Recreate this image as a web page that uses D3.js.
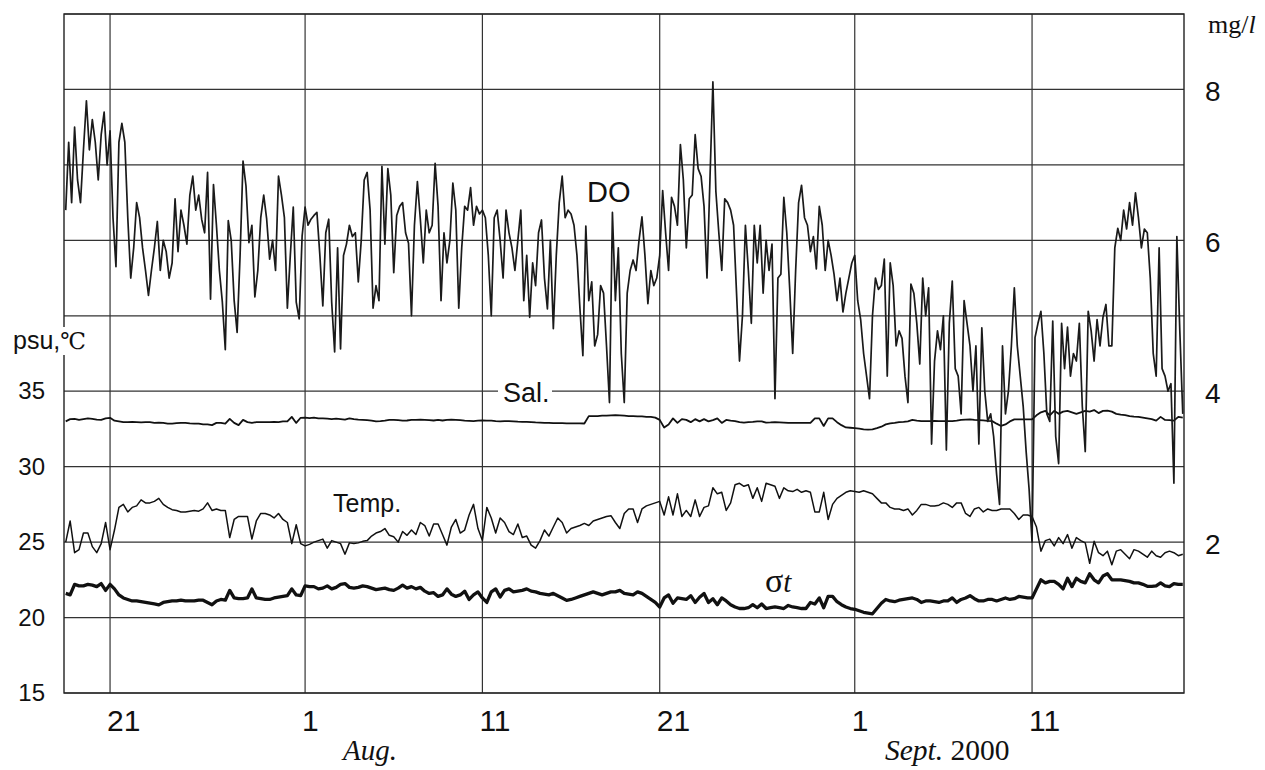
<!DOCTYPE html>
<html>
<head>
<meta charset="utf-8">
<script src="https://cdn.jsdelivr.net/npm/d3@7"></script>
<style>
  body { margin: 0; background: #fff; }
</style>
</head>
<body>
<script>
// readings start 2000-07-18 12:00; DO every 4 h, Sal./Temp./sigma-t every 6 h
var seriesStart = Date.UTC(2000, 6, 18, 12);
var doStepHours = 4;
var stStepHours = 6;

// DO, mg/l (one row per day)
var doValues = [
  6.4, 7.3, 6.5, 7.5, 6.8, 6.5,
  7.2, 7.85, 7.2, 7.6, 7.3, 6.8,
  7.4, 7.7, 7.0, 7.45, 6.3, 5.65,
  7.3, 7.55, 7.3, 6.3, 5.5, 5.9,
  6.5, 6.3, 5.9, 5.6, 5.27, 5.6,
  5.9, 6.25, 5.6, 6.0, 5.85, 5.5,
  5.7, 6.55, 5.85, 6.4, 6.2, 5.95,
  6.6, 6.85, 6.4, 6.6, 6.28, 6.1,
  6.9, 5.22, 6.74, 6.2, 5.6, 5.18,
  4.55, 6.26, 6.0, 5.2, 4.78, 5.8,
  7.05, 6.72, 5.97, 6.2, 5.25, 5.6,
  6.3, 6.6, 6.28, 5.75, 6.0, 5.6,
  6.85, 6.6, 6.3, 5.1, 5.8, 6.44,
  5.18, 4.96, 6.06, 6.44, 6.2, 6.28,
  6.33, 6.37, 5.8, 5.13, 6.1, 6.28,
  5.18, 4.52, 5.9, 4.56, 5.8, 5.95,
  6.2, 6.05, 6.1, 5.45, 6.0, 6.8,
  6.9, 6.4, 5.1, 5.4, 5.2, 6.98,
  5.95, 6.95, 6.6, 5.57, 6.33, 6.45,
  6.5, 6.1, 5.96, 5.0, 6.2, 6.78,
  6.28, 5.7, 6.4, 6.1, 6.2, 7.02,
  6.45, 5.2, 6.1, 5.7, 6.0, 6.76,
  6.4, 5.1, 5.9, 6.45, 6.4, 6.7,
  6.2, 6.45, 6.35, 6.4, 6.3, 5.8,
  5.0, 6.3, 6.4, 6.0, 5.5, 6.4,
  6.1, 5.9, 5.6, 6.0, 6.4, 5.2,
  5.8, 4.98, 5.7, 5.4, 6.1, 6.27,
  5.5, 5.09, 6.0, 4.83, 5.8, 6.5,
  6.85, 6.3, 6.4, 6.35, 6.2, 5.8,
  5.1, 4.47, 6.19, 5.2, 5.45, 4.6,
  4.75, 5.4, 5.3, 4.6, 3.85, 6.37,
  5.2, 5.9, 4.5, 3.85, 5.3, 5.6,
  5.74, 5.6, 6.0, 6.31, 5.8, 5.16,
  5.6, 5.4, 5.5, 5.8, 6.66, 6.1,
  5.6, 6.57, 6.45, 6.2, 7.27, 6.8,
  5.9, 6.55, 6.6, 7.4, 6.95, 6.85,
  6.45, 5.5, 6.8, 8.1, 6.65, 6.1,
  5.6, 6.55, 6.5, 6.4, 6.2, 5.3,
  4.4, 5.0, 6.2, 5.6, 4.9, 6.2,
  5.7, 6.2, 5.3, 6.0, 5.6, 5.95,
  3.9, 5.5, 5.55, 6.57, 6.1, 5.35,
  4.5, 5.6, 6.5, 6.73, 6.3, 6.2,
  5.85, 6.05, 5.62, 6.45, 6.2, 5.6,
  6.0, 5.8, 5.55, 5.2, 5.5, 5.05,
  5.3, 5.5, 5.7, 5.8, 5.2, 4.95,
  4.5, 4.2, 3.9, 5.0, 5.5, 5.35,
  5.4, 5.75, 4.2, 5.7, 5.4, 4.6,
  4.8, 4.7, 4.2, 3.85, 5.42, 5.3,
  4.9, 4.36, 5.5, 5.0, 5.37, 3.3,
  4.4, 4.8, 4.55, 5.0, 3.22, 4.9,
  5.46, 4.3, 4.2, 3.7, 5.2, 4.9,
  4.6, 4.0, 4.6, 3.3, 4.84, 4.0,
  3.6, 3.7, 3.4, 2.9, 2.5, 4.6,
  3.7, 4.0, 4.6, 5.37, 4.6, 4.2,
  3.8, 3.2, 2.7, 2.0, 4.71, 4.9,
  5.06, 4.5, 3.7, 3.6, 4.93, 3.4,
  3.04, 4.9, 4.3, 4.85, 4.2, 4.5,
  4.4, 4.9, 3.8, 3.2, 5.06, 4.8,
  4.4, 4.95, 4.6, 4.98, 5.15, 4.6,
  4.6, 5.9, 6.16, 6.0, 6.4, 6.15,
  6.5, 6.2, 6.63, 6.3, 5.9, 6.15,
  6.1, 5.5, 4.5, 4.2, 5.9, 4.3,
  4.2, 4.0, 4.1, 2.78, 6.05, 4.8,
  3.7
];

// salinity, psu
var salValues = [
  33.0, 33.15, 33.17, 33.1,   33.15, 33.2, 33.17, 33.12,  33.1, 33.2, 33.24, 33.05,
  33.0, 32.95, 32.95, 32.97,  32.95, 32.93, 32.95, 32.95, 32.9, 32.92, 32.9, 32.85,
  32.85, 32.88, 32.9, 32.9,   32.87, 32.85, 32.85, 32.8,  32.8, 32.75, 32.9, 32.9,
  32.85, 33.17, 32.9, 32.75,  33.1, 32.95, 32.9, 32.95,   32.95, 32.95, 32.95, 32.97,
  32.95, 33.0, 33.0, 33.3,    32.9, 33.24, 33.25, 33.22,  33.25, 33.2, 33.2, 33.18,
  33.15, 33.18, 33.15, 33.12, 33.2, 33.15, 33.12, 33.1,   33.08, 33.05, 33.0, 33.02,
  33.05, 33.1, 33.1, 33.08,   33.05, 33.06, 33.1, 33.1,   33.12, 33.1, 33.08, 33.06,
  33.1, 33.06, 33.1, 33.12,   33.1, 33.08, 33.05, 33.04,  33.02, 33.05, 33.07, 33.05,
  33.05, 33.02, 33.0, 33.02,  33.02, 33.0, 32.98, 32.97,  32.97, 32.95, 32.93, 32.92,
  32.9, 32.9, 32.88, 32.88,   32.88, 32.87, 32.87, 32.87, 32.87, 32.86, 33.35, 33.35,
  33.35, 33.38, 33.38, 33.4,  33.42, 33.4, 33.38, 33.35,  33.35, 33.33, 33.33, 33.3,
  33.3, 33.25, 33.1, 32.6,    32.8, 33.2, 32.9, 33.15,    33.1, 32.95, 33.15, 33.0,
  33.15, 33.0, 33.08, 33.2,   32.9, 33.1, 33.05, 33.02,   32.95, 32.92, 32.95, 32.97,
  33.0, 33.0, 32.92, 32.93,   32.95, 32.94, 32.92, 32.9,  32.9, 32.9, 32.9, 32.9,
  32.9, 33.2, 33.2, 32.7,     33.2, 33.2, 32.95, 32.75,   32.6, 32.58, 32.55, 32.52,
  32.47, 32.45, 32.47, 32.55, 32.65, 32.8, 32.87, 32.9,   32.95, 32.97, 33.0, 33.1,
  33.05, 33.02, 33.02, 33.02, 33.03, 33.02, 33.02, 33.02, 33.02, 33.05, 33.1, 33.12,
  33.13, 33.1, 33.09, 33.07,  33.04, 33.02, 32.85, 32.7,  32.8, 33.0, 33.13, 33.13,
  33.13, 33.13, 33.13, 33.4,  33.6, 33.7, 33.4, 33.7,     33.5, 33.65, 33.7, 33.6,
  33.5, 33.6, 33.7, 33.65,    33.75, 33.55, 33.7, 33.72,  33.65, 33.5, 33.45, 33.42,
  33.35, 33.32, 33.3, 33.25,  33.2, 33.15, 33.05, 33.3,   33.1, 33.08, 33.05, 33.3,
  33.25
];

// water temperature, deg C
var tempValues = [
  25.0, 26.4, 24.3, 24.5,   25.6, 25.6, 24.7, 24.3,   24.9, 26.3, 24.5, 25.8,
  27.3, 27.5, 27.0, 27.3,   27.4, 27.8, 27.6, 27.6,   27.7, 27.9, 27.5, 27.3,
  27.15, 27.1, 27.0, 27.0,  27.05, 27.1, 27.05, 27.2, 27.6, 27.1, 27.2, 27.1,
  27.1, 25.3, 26.5, 26.7,   26.7, 26.7, 25.2, 26.4,   26.9, 26.9, 26.8, 26.6,
  26.9, 26.5, 26.3, 24.9,   26.15, 24.9, 24.75, 24.85, 25.0, 25.1, 25.2, 24.6,
  25.1, 25.0, 24.9, 24.2,   24.95, 24.9, 24.95, 25.05, 25.1, 25.4, 25.6, 25.7,
  25.9, 25.45, 25.35, 25.0, 25.7, 25.45, 25.8, 25.5,  26.3, 26.1, 25.4, 26.2,
  26.2, 25.5, 24.8, 26.0,   26.5, 25.6, 25.8, 26.8,   27.5, 25.9, 25.1, 27.3,
  26.6, 25.6, 26.6, 26.3,   25.7, 25.5, 26.2, 25.3,   25.4, 24.8, 24.6, 25.1,
  25.8, 25.4, 26.0, 26.6,   26.3, 25.6, 25.9, 26.0,   26.1, 26.24, 26.1, 26.4,
  26.5, 26.6, 26.7, 26.75,  26.3, 25.9, 26.9, 27.2,   27.2, 26.3, 27.2, 27.4,
  27.5, 27.6, 27.7, 26.8,   28.0, 26.8, 28.2, 26.7,   27.1, 26.7, 27.8, 26.7,
  27.3, 27.4, 28.6, 28.2,   28.3, 27.1, 27.6, 28.8,   28.9, 28.7, 28.8, 27.9,
  28.6, 27.7, 28.9, 28.8,   28.7, 27.9, 28.6, 28.4,   28.35, 28.5, 28.3, 28.4,
  28.3, 27.0, 27.0, 28.3,   26.5, 27.5, 27.9, 28.1,   28.3, 28.4, 28.35, 28.3,
  28.4, 28.3, 28.2, 27.9,   27.6, 27.6, 27.3, 27.2,   27.2, 27.1, 27.2, 26.8,
  27.1, 27.5, 27.5, 27.4,   27.4, 27.45, 27.6, 27.5,  27.3, 27.6, 27.6, 26.9,
  26.7, 27.2, 27.3, 27.0,   27.2, 27.1, 27.1, 27.2,   27.2, 27.2, 26.9, 26.5,
  26.8, 26.8, 26.7, 26.0,   24.4, 25.1, 25.2, 24.75,  25.3, 24.9, 25.5, 24.6,
  25.3, 25.1, 24.95, 23.6,  25.05, 24.3, 24.1, 24.4,  23.5, 24.4, 24.5, 24.2,
  23.9, 24.5, 24.4, 24.2,   24.0, 24.4, 24.1, 24.0,   24.3, 24.4, 24.3, 24.1,
  24.2
];

// sigma-t
var sigmaValues = [
  21.6, 21.5, 22.2, 22.1,   22.1, 22.2, 22.15, 22.05, 22.25, 21.8, 22.2, 21.9,
  21.5, 21.3, 21.2, 21.1,   21.1, 21.05, 21.0, 20.95, 20.9, 20.84, 21.0, 21.05,
  21.1, 21.1, 21.15, 21.1,  21.1, 21.1, 21.15, 21.15, 21.0, 20.85, 21.1, 21.2,
  21.15, 21.8, 21.3, 21.25, 21.25, 21.3, 21.9, 21.3,  21.25, 21.2, 21.2, 21.3,
  21.35, 21.4, 21.45, 21.9, 21.5, 21.45, 22.1, 22.05, 22.05, 21.9, 21.95, 22.1,
  21.9, 22.0, 22.2, 22.25,  22.0, 21.95, 22.0, 22.1,  22.05, 21.95, 21.85, 21.9,
  21.95, 21.85, 21.8, 21.95, 22.15, 21.95, 22.05, 21.9, 22.0, 21.75, 21.6, 21.65,
  21.4, 21.5, 21.9, 21.55,  21.4, 21.5, 21.75, 21.2,  21.5, 21.7, 21.3, 21.0,
  21.7, 21.9, 21.36, 21.8,  21.9, 21.7, 21.75, 21.8,  21.9, 21.75, 21.7, 21.6,
  21.55, 21.5, 21.6, 21.45, 21.3, 21.14, 21.2, 21.3,  21.4, 21.5, 21.6, 21.7,
  21.6, 21.5, 21.6, 21.7,   21.7, 21.8, 21.6, 21.55,  21.5, 21.7, 21.6, 21.4,
  21.2, 21.0, 20.7, 21.3,   21.5, 20.95, 21.3, 21.25, 21.2, 21.45, 21.0, 21.35,
  21.6, 21.0, 21.25, 20.85, 21.3, 21.1, 20.85, 20.7,  20.6, 20.6, 20.65, 20.85,
  20.65, 20.9, 20.6, 20.65, 20.7, 20.65, 20.6, 20.8,  20.7, 20.65, 20.6, 20.6,
  21.0, 20.9, 21.3, 20.65,  21.4, 21.4, 21.05, 20.85, 20.7, 20.6, 20.55, 20.45,
  20.35, 20.3, 20.25, 20.6, 20.95, 21.2, 21.1, 21.05, 21.15, 21.2, 21.25, 21.3,
  21.2, 21.0, 21.1, 21.1,   21.05, 21.0, 21.1, 21.1,  21.3, 21.0, 21.2, 21.3,
  21.45, 21.25, 21.1, 21.1, 21.2, 21.2, 21.1, 21.2,   21.3, 21.2, 21.25, 21.4,
  21.35, 21.3, 21.3, 21.9,  22.5, 22.3, 22.4, 22.4,   22.2, 21.9, 22.6, 22.05,
  22.6, 22.4, 22.3, 22.9,   22.5, 22.3, 22.75, 22.9,  22.5, 22.5, 22.5, 22.45,
  22.4, 22.3, 22.3, 22.2,   22.07, 22.07, 22.1, 22.3, 22.1, 22.05, 22.25, 22.2,
  22.2
];

var xTickDates = ["2000-07-21", "2000-08-01", "2000-08-11", "2000-08-21", "2000-09-01", "2000-09-11"];
var xTickLabels = ["21", "1", "11", "21", "1", "11"];
var leftTicks = [15, 20, 25, 30, 35];
var rightTicks = [2, 4, 6, 8];
var gridLevels = [15, 20, 25, 30, 35, 40, 45, 50, 55, 60];

var width = 1265, height = 770;
var plot = {left: 64, right: 1184, top: 14, bottom: 693};
var sans = "'Liberation Sans', Arial, sans-serif";
var serif = "'Liberation Serif', 'Times New Roman', serif";

var svg = d3.select("body").append("svg")
    .attr("width", width)
    .attr("height", height)
    .attr("font-family", sans)
    .attr("fill", "#111");

var x = d3.scaleUtc()
    .domain([Date.UTC(2000, 6, 18, 9, 40), Date.UTC(2000, 8, 19, 13, 40)])
    .range([plot.left, plot.right]);
var yLeft = d3.scaleLinear().domain([15, 60]).range([plot.bottom, plot.top]);
var yRight = d3.scaleLinear().domain([0, 9]).range([plot.bottom, plot.top]);

function timeAt(i, stepHours) {
    return new Date(seriesStart + i * stepHours * 3600000);
}

// grid
svg.append("g").selectAll("line").data(gridLevels).enter().append("line")
    .attr("x1", plot.left).attr("x2", plot.right)
    .attr("y1", function (d) { return yLeft(d); })
    .attr("y2", function (d) { return yLeft(d); })
    .attr("stroke", "#333").attr("stroke-width", 1.2);

svg.append("g").selectAll("line").data(xTickDates).enter().append("line")
    .attr("x1", function (d) { return x(new Date(d)); })
    .attr("x2", function (d) { return x(new Date(d)); })
    .attr("y1", plot.top).attr("y2", plot.bottom)
    .attr("stroke", "#333").attr("stroke-width", 1.2);

svg.append("rect")
    .attr("x", plot.left).attr("y", plot.top)
    .attr("width", plot.right - plot.left).attr("height", plot.bottom - plot.top)
    .attr("fill", "none").attr("stroke", "#222").attr("stroke-width", 1.4);

// axes
var leftAxis = svg.append("g")
    .attr("transform", "translate(" + plot.left + ",0)")
    .call(d3.axisLeft(yLeft).tickValues(leftTicks).tickSize(0).tickPadding(19));
leftAxis.select(".domain").remove();
leftAxis.attr("font-family", sans).attr("font-size", 24);
leftAxis.selectAll("text").attr("fill", "#111");

var rightAxis = svg.append("g")
    .attr("transform", "translate(" + plot.right + ",0)")
    .call(d3.axisRight(yRight).tickValues(rightTicks).tickSize(0).tickPadding(21));
rightAxis.select(".domain").remove();
rightAxis.attr("font-family", sans).attr("font-size", 28);
rightAxis.selectAll("text").attr("dy", "0.4em").attr("fill", "#111");

svg.append("g").selectAll("text").data(xTickDates).enter().append("text")
    .attr("x", function (d) { return x(new Date(d)) - 3; })
    .attr("y", 731)
    .attr("font-size", 30)
    .text(function (d, i) { return xTickLabels[i]; });

// month labels
svg.append("text").attr("x", 343).attr("y", 760)
    .attr("font-family", serif)
    .attr("font-style", "italic").attr("font-size", 29)
    .text("Aug.");

var sept = svg.append("text").attr("x", 885).attr("y", 760)
    .attr("font-family", serif)
    .attr("font-size", 29.5);
sept.append("tspan").attr("font-style", "italic").text("Sept.");
sept.append("tspan").text(" 2000");

// unit labels
var mg = svg.append("text").attr("x", 1208).attr("y", 33)
    .attr("font-family", serif)
    .attr("font-size", 26);
mg.append("tspan").text("mg/");
mg.append("tspan").attr("font-style", "italic").text("l");

svg.append("rect").attr("x", 58).attr("y", 327).attr("width", 32).attr("height", 28).attr("fill", "#fff");
var psu = svg.append("text").attr("x", 13).attr("y", 349).attr("font-size", 25);
psu.append("tspan").text("psu,");
psu.append("tspan").attr("font-family", "'DejaVu Serif', 'Liberation Serif', serif")
    .attr("font-size", 23).text("℃");

// series lines
var doLine = d3.line()
    .x(function (d, i) { return x(timeAt(i, doStepHours)); })
    .y(function (d) { return yRight(d); });
var leftLine = d3.line()
    .x(function (d, i) { return x(timeAt(i, stStepHours)); })
    .y(function (d) { return yLeft(d); });

svg.append("path").datum(salValues)
    .attr("d", leftLine).attr("fill", "none")
    .attr("stroke", "#111").attr("stroke-width", 1.8).attr("stroke-linejoin", "round");
svg.append("path").datum(tempValues)
    .attr("d", leftLine).attr("fill", "none")
    .attr("stroke", "#111").attr("stroke-width", 1.5).attr("stroke-linejoin", "round");
svg.append("path").datum(sigmaValues)
    .attr("d", leftLine).attr("fill", "none")
    .attr("stroke", "#111").attr("stroke-width", 3.3).attr("stroke-linejoin", "round");
svg.append("path").datum(doValues)
    .attr("d", doLine).attr("fill", "none")
    .attr("stroke", "#1a1a1a").attr("stroke-width", 1.7).attr("stroke-linejoin", "round");

// series names
svg.append("rect").attr("x", 498).attr("y", 384).attr("width", 54).attr("height", 16).attr("fill", "#fff");
svg.append("text").attr("x", 503).attr("y", 402).attr("font-size", 27).text("Sal.");
svg.append("text").attr("x", 587).attr("y", 202).attr("font-size", 29).text("DO");
svg.append("text").attr("x", 333).attr("y", 512).attr("font-size", 25).text("Temp.");

var sig = svg.append("text").attr("x", 765).attr("y", 592)
    .attr("font-family", serif)
    .attr("font-size", 34);
sig.append("tspan").text("σ");
sig.append("tspan").attr("font-style", "italic").attr("font-size", 29).text("t");
</script>
</body>
</html>
